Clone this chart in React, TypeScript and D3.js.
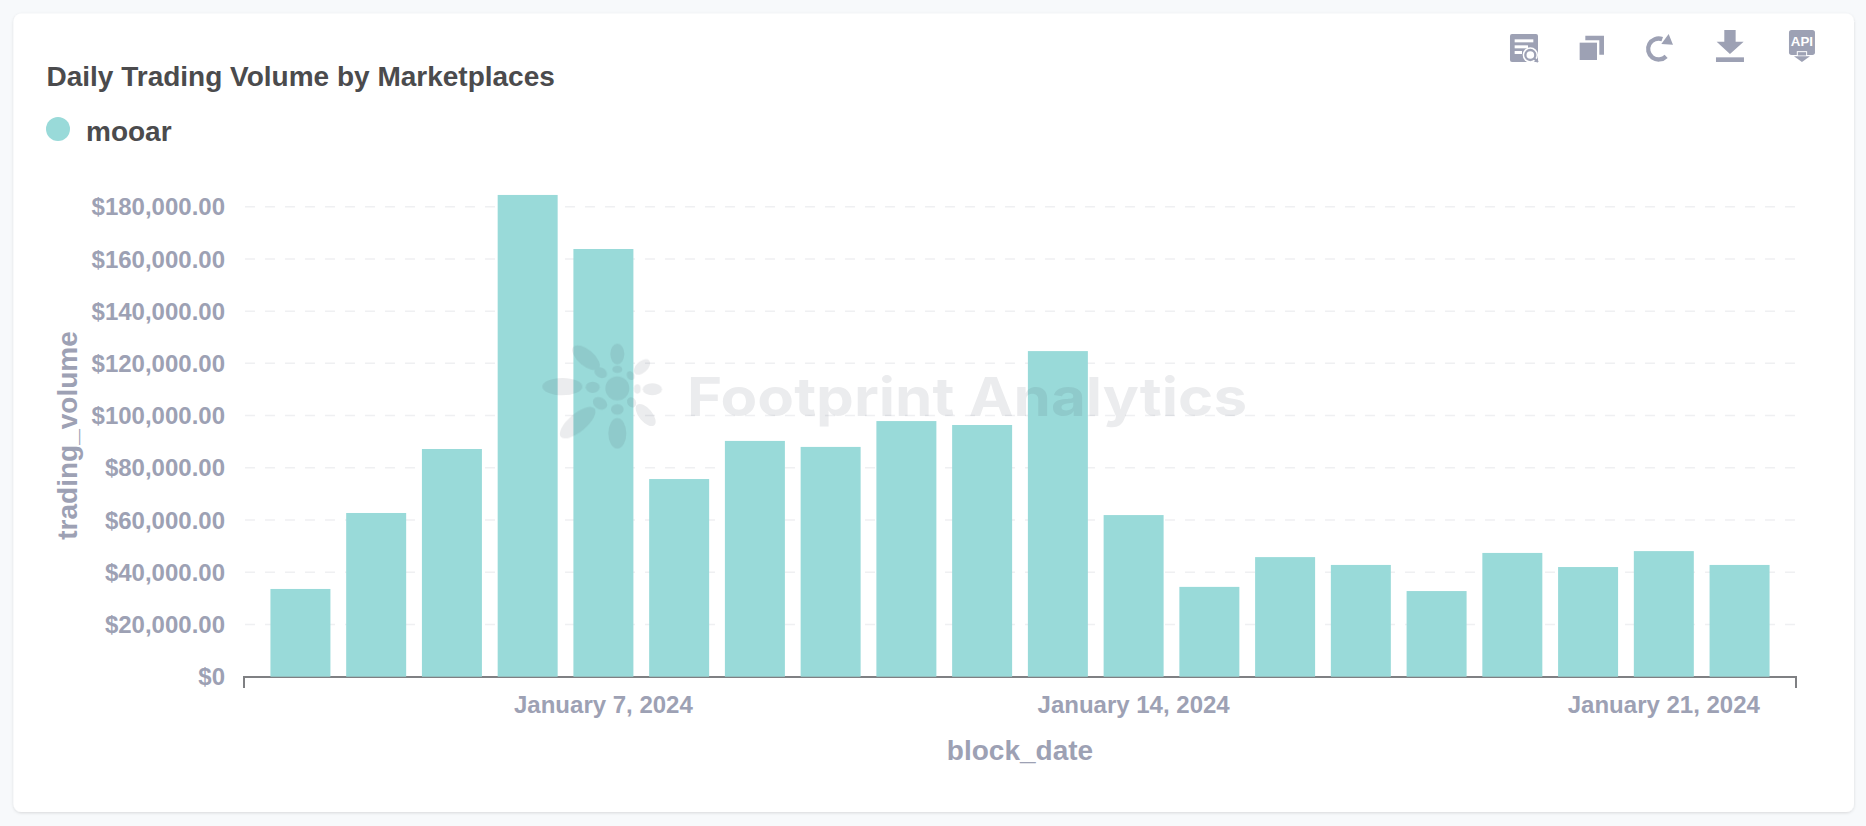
import React, { useEffect, useRef } from 'react';
import * as d3 from 'd3';

const blockDates = [
  '2024-01-03', '2024-01-04', '2024-01-05', '2024-01-06', '2024-01-07',
  '2024-01-08', '2024-01-09', '2024-01-10', '2024-01-11', '2024-01-12',
  '2024-01-13', '2024-01-14', '2024-01-15', '2024-01-16', '2024-01-17',
  '2024-01-18', '2024-01-19', '2024-01-20', '2024-01-21', '2024-01-22',
];
const tradingVolume = [
  33600, 62700, 87200, 184500, 163800, 75700, 90300, 88000, 97900, 96400,
  124700, 61900, 34400, 45800, 42800, 32800, 47400, 42000, 48100, 42800,
];
const yTicks = [0, 20000, 40000, 60000, 80000, 100000, 120000, 140000, 160000, 180000];
const xTicks = ['2024-01-07', '2024-01-14', '2024-01-21'];
const xTickLabels = ['January 7, 2024', 'January 14, 2024', 'January 21, 2024'];

const WIDTH = 1866;
const HEIGHT = 826;
const FONT = '"Liberation Sans", Arial, sans-serif';
const BAR = '#99DAD9';
const MUTED = '#9DA1B4';
const DARK = '#4B4B4D';
const ICON = '#9DA1B4';

// logo petals: cx, cy, rx, ry, rotation (in 3x crop pixels)
const petals: number[][] = [
  [262, 175, 36, 36, 0], [262, 72, 21, 31, 0], [262, 118, 15, 11, 0],
  [97, 170, 60, 26, 0], [188, 172, 21, 17, 0], [168, 83, 50, 24, 40],
  [212, 128, 20, 15, 30], [336, 111, 29, 17, -42], [302, 137, 11, 14, -30],
  [367, 178, 29, 18, 0], [322, 177, 10, 14, 0], [347, 255, 40, 20, 50],
  [305, 217, 13, 16, -30], [143, 278, 66, 27, -40], [210, 220, 23, 17, 30],
  [262, 310, 27, 46, 0], [262, 238, 19, 16, 0],
];

export default function App() {
  const svgRef = useRef<SVGSVGElement>(null);

  useEffect(() => {
    if (!svgRef.current) return;
    const svg = d3.select(svgRef.current);
    svg.selectAll('*').remove();

    const x = d3.scaleBand<string>()
      .domain(blockDates)
      .range([244, 1796])
      .paddingInner(0.208)
      .paddingOuter(0.349);
    const y = d3.scaleLinear().domain([0, 180000]).range([676.7, 206.7]);

    // card
    const defs = svg.append('defs');
    const shadow = defs.append('filter').attr('id', 'card-shadow')
      .attr('x', '-2%').attr('y', '-2%').attr('width', '104%').attr('height', '104%');
    shadow.append('feDropShadow')
      .attr('dx', 0).attr('dy', 1).attr('stdDeviation', 1.6)
      .attr('flood-color', '#000').attr('flood-opacity', 0.13);

    svg.append('rect').attr('width', WIDTH).attr('height', HEIGHT).attr('fill', '#F7F9FB');
    svg.append('rect')
      .attr('x', 13.5).attr('y', 13.5).attr('width', 1840.5).attr('height', 798.5)
      .attr('rx', 8).attr('fill', '#fff').attr('filter', 'url(#card-shadow)');

    // title + legend
    svg.append('text').attr('x', 46.5).attr('y', 86)
      .attr('font-family', FONT).attr('font-weight', 700).attr('font-size', 28)
      .attr('fill', DARK).text('Daily Trading Volume by Marketplaces');
    svg.append('circle').attr('cx', 58).attr('cy', 129).attr('r', 12).attr('fill', BAR);
    svg.append('text').attr('x', 86).attr('y', 141)
      .attr('font-family', FONT).attr('font-weight', 700).attr('font-size', 28)
      .attr('fill', DARK).text('mooar');

    // grid
    svg.append('g').selectAll('line')
      .data(yTicks.filter(d => d > 0))
      .join('line')
      .attr('x1', 245).attr('x2', 1796)
      .attr('y1', d => y(d)).attr('y2', d => y(d))
      .attr('stroke', '#EFF0F2').attr('stroke-width', 1.5)
      .attr('stroke-dasharray', '10 10');

    // y axis
    const yAxis = d3.axisLeft(y)
      .tickValues(yTicks)
      .tickSize(0)
      .tickPadding(19)
      .offset(0)
      .tickFormat(d => (+d === 0 ? '$0' : d3.format('$,.2f')(+d)));
    const yG = svg.append('g').attr('transform', 'translate(244,1)').call(yAxis);
    yG.select('.domain').remove();
    yG.selectAll('text')
      .attr('font-family', FONT).attr('font-weight', 700).attr('font-size', 24)
      .attr('fill', MUTED);

    // x axis
    const xAxis = d3.axisBottom(x)
      .tickValues(xTicks)
      .tickSizeInner(0)
      .tickSizeOuter(11)
      .tickPadding(0)
      .offset(0)
      .tickFormat(d => xTickLabels[xTicks.indexOf(d)]);
    const xG = svg.append('g').attr('transform', 'translate(0,677)').call(xAxis);
    xG.select('.domain').attr('stroke', '#7F8083').attr('stroke-width', 2);
    xG.selectAll('text')
      .attr('y', 36).attr('dy', 0)
      .attr('font-family', FONT).attr('font-weight', 700).attr('font-size', 24)
      .attr('fill', MUTED);

    // bars
    svg.append('g').selectAll('rect')
      .data(blockDates)
      .join('rect')
      .attr('x', d => x(d) as number)
      .attr('width', x.bandwidth())
      .attr('y', (_, i) => y(tradingVolume[i]))
      .attr('height', (_, i) => y(0) - y(tradingVolume[i]))
      .attr('fill', BAR);

    // axis titles
    svg.append('text').attr('x', 1020).attr('y', 760).attr('text-anchor', 'middle')
      .attr('font-family', FONT).attr('font-weight', 700).attr('font-size', 28)
      .attr('fill', MUTED).text('block_date');
    svg.append('text')
      .attr('transform', 'translate(76.5,435.5) rotate(-90)').attr('text-anchor', 'middle')
      .attr('font-family', FONT).attr('font-weight', 700).attr('font-size', 28)
      .attr('fill', MUTED).text('trading_volume');

    // watermark
    const mark = svg.append('g').attr('fill', '#3A4050').attr('opacity', 0.1);
    const logo = mark.append('g').attr('transform', 'translate(530,330) scale(0.3333)');
    logo.selectAll('ellipse')
      .data(petals)
      .join('ellipse')
      .attr('rx', d => d[2]).attr('ry', d => d[3])
      .attr('transform', d => `translate(${d[0]},${d[1]}) rotate(${d[4]})`);
    mark.append('text').attr('x', 687).attr('y', 416)
      .attr('font-family', 'Inter, sans-serif').attr('font-weight', 700).attr('font-size', 54)
      .attr('textLength', 560).attr('lengthAdjust', 'spacingAndGlyphs')
      .text('Footprint Analytics');

    // toolbar icons, in crop pixels
    const icons = svg.append('g').attr('transform', 'translate(1466,0) scale(0.3333)').attr('fill', ICON);
    icons.append('rect').attr('x', 132).attr('y', 102).attr('width', 84).attr('height', 84).attr('rx', 6);
    [[146, 118, 56], [146, 136, 40], [146, 153, 22]].forEach(([bx, by, bw]) => {
      icons.append('rect').attr('x', bx).attr('y', by).attr('width', bw).attr('height', 9).attr('fill', '#fff');
    });
    icons.append('circle').attr('cx', 193).attr('cy', 165).attr('r', 23).attr('fill', '#fff');
    icons.append('circle').attr('cx', 193).attr('cy', 165).attr('r', 15)
      .attr('fill', '#fff').attr('stroke', ICON).attr('stroke-width', 7);
    icons.append('path').attr('d', 'M205,176 L216,186').attr('stroke', ICON).attr('stroke-width', 7);

    icons.append('rect').attr('x', 341).attr('y', 128).attr('width', 52).attr('height', 52);
    icons.append('path').attr('d', 'M358,107 H414 V164 H400 V121 H358 Z');

    icons.append('path')
      .attr('d', d3.arc()({ innerRadius: 25, outerRadius: 38, startAngle: 2.35, endAngle: 2 * Math.PI + 0.35 }) as string)
      .attr('transform', 'translate(578,147)');
    icons.append('path').attr('d', 'M586,132 L608,102 L621,134 Z');

    icons.append('path').attr('d', 'M775,90 H809 V125 H833 L792,162 L752,125 H775 Z');
    icons.append('rect').attr('x', 750).attr('y', 172).attr('width', 84).attr('height', 14);

    icons.append('rect').attr('x', 969).attr('y', 90).attr('width', 78).attr('height', 75).attr('rx', 8);
    icons.append('text').attr('x', 1008).attr('y', 139).attr('text-anchor', 'middle')
      .attr('font-family', FONT).attr('font-weight', 700).attr('font-size', 40)
      .attr('fill', '#fff').text('API');
    icons.append('rect').attr('x', 994).attr('y', 155).attr('width', 28).attr('height', 13)
      .attr('stroke', '#fff').attr('stroke-width', 3);
    icons.append('path').attr('d', 'M984,169 H1032 L1008,186 Z');
  }, []);

  return (
    <svg
      ref={svgRef}
      width={WIDTH}
      height={HEIGHT}
      style={{ position: 'absolute', left: 0, top: 0, display: 'block' }}
    />
  );
}
